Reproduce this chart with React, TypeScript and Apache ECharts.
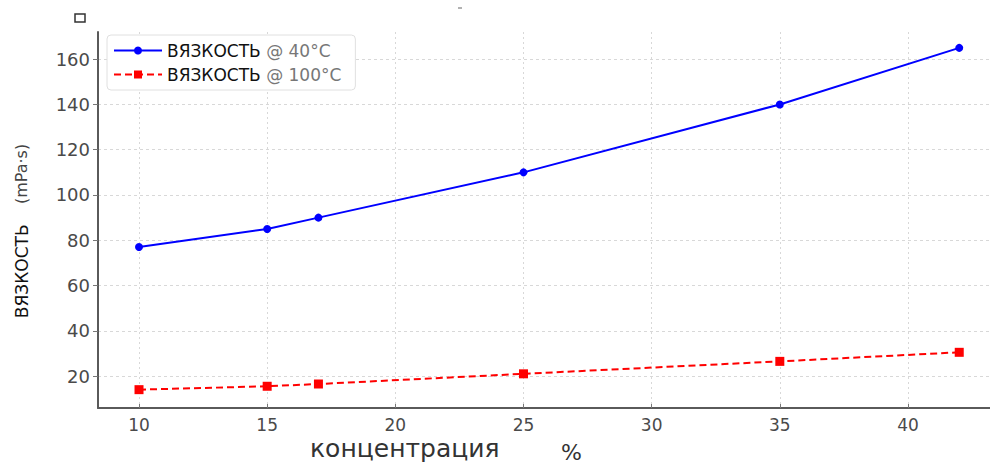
import React, { useEffect, useRef } from "react";
import * as echarts from "echarts";

const concentration = [10, 15, 17, 25, 35, 42];
const visc40 = [77, 85, 90, 110, 140, 165];
const visc100 = [14, 15.5, 16.5, 21, 26.5, 30.5];
const xTicks = [10, 15, 20, 25, 30, 35, 40];
const yTicks = [20, 40, 60, 80, 100, 120, 140, 160];
const seriesNames = ["ВЯЗКОСТЬ @ 40°C", "ВЯЗКОСТЬ @ 100°C"];

const FONT = "DejaVu Sans";

export default function App() {
  const ref = useRef<HTMLDivElement>(null);
  useEffect(() => {
    const chart = echarts.init(ref.current!, null, { renderer: "svg" });
    const mk = (vals: number[]) => concentration.map((c, i) => [c, vals[i]]);
    chart.setOption({
      animation: false,
      backgroundColor: "#ffffff",
      grid: { left: 98, right: 0, top: 32, bottom: 56 },
      xAxis: {
        type: "value",
        min: 8.4,
        max: 43.2,
        axisLine: { show: true, lineStyle: { color: "#5a5a5a", width: 2 } },
        axisTick: { show: true, inside: true, length: 4, customValues: xTicks, lineStyle: { color: "#777" } },
        axisLabel: { customValues: xTicks, color: "#4a4a4a", fontFamily: FONT, fontSize: 17, margin: 8 },
        splitLine: { show: true, lineStyle: { color: "#d8d8d8", type: [2, 3], width: 1 } },
      },
      yAxis: {
        type: "value",
        min: 5.9,
        max: 172,
        name: "{a|ВЯЗКОСТЬ}{b|    (mPa·s)}",
        nameLocation: "middle",
        nameRotate: 90,
        nameGap: 68,
        nameTextStyle: {
          padding: [0, 22, 0, 0],
          rich: {
            a: { fontFamily: FONT, fontSize: 17, color: "#111" },
            b: { fontFamily: FONT, fontSize: 16, color: "#444" },
          },
        },
        axisLine: { show: true, lineStyle: { color: "#5a5a5a", width: 2 } },
        axisTick: { show: true, length: 5, customValues: yTicks, lineStyle: { color: "#777" } },
        axisLabel: { customValues: yTicks, color: "#4a4a4a", fontFamily: FONT, fontSize: 18, margin: 8 },
        splitLine: { show: true, lineStyle: { color: "#d8d8d8", type: [3, 3], width: 1 } },
      },
      legend: {
        left: 107,
        top: 35,
        orient: "vertical",
        padding: [7, 14, 7, 6],
        itemGap: 7,
        itemWidth: 48,
        itemHeight: 10,
        backgroundColor: "#fff",
        borderColor: "#e0e0e0",
        borderWidth: 1,
        borderRadius: 4,
        data: seriesNames,
        formatter: (name: string) => {
          const parts = name.split(" @ ");
          return `{a|${parts[0]}}{b| @ ${parts[1]}}`;
        },
        textStyle: {
          rich: {
            a: { fontFamily: FONT, fontSize: 17, color: "#111" },
            b: { fontFamily: FONT, fontSize: 17, color: "#777" },
          },
        },
      },
      series: [
        {
          name: seriesNames[0],
          type: "line",
          data: mk(visc40),
          symbol: "circle",
          symbolSize: 8,
          lineStyle: { color: "#0000ff", width: 2 },
          itemStyle: { color: "#0000ff" },
        },
        {
          name: seriesNames[1],
          type: "line",
          data: mk(visc100),
          symbol: "rect",
          symbolSize: 9,
          lineStyle: { color: "#ff0000", width: 2, type: [7, 4] },
          itemStyle: { color: "#ff0000" },
        },
      ],
      graphic: [
        {
          type: "text",
          left: 310,
          top: 436,
          style: { text: "концентрация", fontFamily: FONT, fontSize: 25, fill: "#333" },
        },
        {
          type: "text",
          left: 561,
          top: 441,
          style: { text: "%", fontFamily: FONT, fontSize: 22, fill: "#333" },
        },
        {
          type: "rect",
          shape: { x: 75, y: 14, width: 10, height: 8 },
          style: { fill: "none", stroke: "#333", lineWidth: 1.5 },
        },
        {
          type: "line",
          shape: { x1: 458, y1: 8, x2: 462, y2: 8 },
          style: { stroke: "#999", lineWidth: 1.5 },
        },
      ],
    });
    return () => chart.dispose();
  }, []);
  return (
    <div
      ref={ref}
      style={{ position: "fixed", left: 0, top: 0, width: 990, height: 464 }}
    />
  );
}
